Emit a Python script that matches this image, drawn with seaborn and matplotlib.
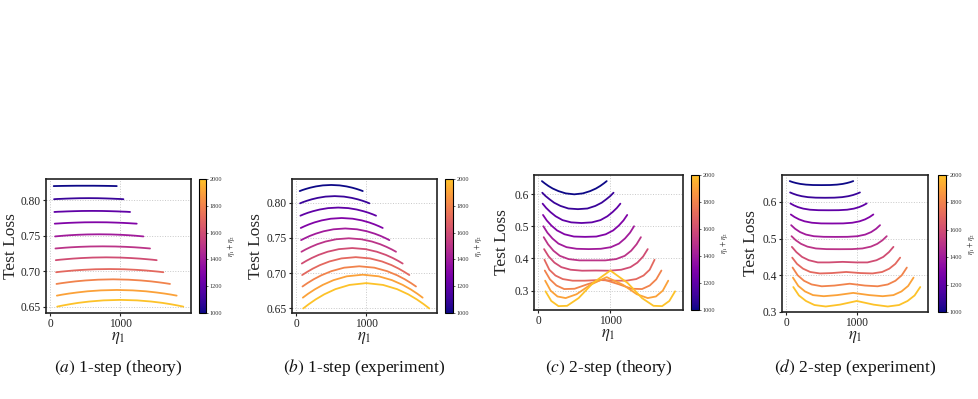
import numpy as np
import pandas as pd
import matplotlib
matplotlib.use("Agg")
import matplotlib.pyplot as plt
import seaborn as sns
from matplotlib.colors import ListedColormap, Normalize
from matplotlib.cm import ScalarMappable

# Step 1: data
step_sums = [1000, 1100, 1200, 1300, 1400, 1500, 1600, 1700, 1800, 1900, 2000]
eta1_fracs = [0.05, 0.09, 0.14, 0.20, 0.28, 0.38, 0.50, 0.62, 0.72, 0.80, 0.86, 0.91, 0.95]

loss_1step_theory = [
    [.8200, .8201, .8202, .8203, .8204, .8205, .8205, .8205, .8204, .8203, .8202, .8201, .8200],
    [.8015, .8018, .8020, .8023, .8026, .8029, .8030, .8029, .8026, .8023, .8020, .8018, .8015],
    [.7835, .7838, .7840, .7843, .7846, .7849, .7850, .7849, .7846, .7843, .7840, .7838, .7835],
    [.7670, .7673, .7677, .7681, .7685, .7689, .7690, .7689, .7685, .7681, .7677, .7673, .7670],
    [.7490, .7495, .7501, .7507, .7513, .7518, .7520, .7518, .7513, .7507, .7501, .7495, .7490],
    [.7320, .7325, .7331, .7337, .7343, .7348, .7350, .7348, .7343, .7337, .7331, .7325, .7320],
    [.7155, .7162, .7169, .7177, .7185, .7192, .7195, .7192, .7185, .7177, .7169, .7162, .7155],
    [.6985, .6993, .7001, .7010, .7019, .7027, .7030, .7027, .7019, .7010, .7001, .6993, .6985],
    [.6820, .6831, .6843, .6856, .6869, .6880, .6885, .6880, .6869, .6856, .6843, .6831, .6820],
    [.6655, .6669, .6684, .6699, .6716, .6729, .6735, .6729, .6716, .6699, .6684, .6669, .6655],
    [.6500, .6516, .6534, .6553, .6572, .6588, .6595, .6588, .6572, .6553, .6534, .6516, .6500],
]

loss_1step_exp = [
    [.8168, .8183, .8199, .8216, .8234, .8249, .8255, .8249, .8234, .8216, .8199, .8183, .8168],
    [.7993, .8011, .8030, .8050, .8071, .8089, .8096, .8089, .8071, .8050, .8030, .8011, .7993],
    [.7817, .7837, .7859, .7881, .7905, .7925, .7933, .7925, .7905, .7881, .7859, .7837, .7817],
    [.7642, .7666, .7693, .7721, .7750, .7774, .7784, .7774, .7750, .7721, .7693, .7666, .7642],
    [.7469, .7497, .7529, .7561, .7595, .7623, .7635, .7623, .7595, .7561, .7529, .7497, .7469],
    [.7303, .7336, .7372, .7410, .7449, .7481, .7495, .7481, .7449, .7410, .7372, .7336, .7303],
    [.7135, .7173, .7215, .7258, .7303, .7340, .7356, .7340, .7303, .7258, .7215, .7173, .7135],
    [.6971, .7014, .7063, .7113, .7165, .7208, .7226, .7208, .7165, .7113, .7063, .7014, .6971],
    [.6808, .6857, .6912, .6968, .7027, .7076, .7096, .7076, .7027, .6968, .6912, .6857, .6808],
    [.6649, .6705, .6767, .6831, .6898, .6953, .6976, .6953, .6898, .6831, .6767, .6705, .6649],
    [.6495, .6556, .6625, .6696, .6770, .6830, .6856, .6830, .6770, .6696, .6625, .6556, .6495],
]

loss_2step_theory = [
    [.640, .633, .625, .617, .609, .602, .599, .602, .609, .617, .625, .633, .640],
    [.604, .594, .584, .573, .563, .555, .553, .555, .563, .573, .584, .594, .604],
    [.570, .557, .544, .531, .519, .512, .510, .512, .519, .531, .544, .557, .570],
    [.535, .518, .502, .487, .475, .468, .467, .468, .475, .487, .502, .518, .535],
    [.500, .480, .462, .446, .435, .430, .429, .430, .435, .446, .462, .480, .500],
    [.466, .444, .424, .408, .398, .394, .394, .394, .398, .408, .424, .444, .466],
    [.429, .406, .387, .373, .365, .362, .3625, .362, .365, .373, .387, .406, .429],
    [.396, .365, .347, .336, .331, .331, .333, .331, .331, .336, .347, .365, .396],
    [.3625, .335, .316, .305, .306, .320, .335, .320, .306, .305, .316, .335, .3625],
    [.331, .300, .282, .277, .289, .318, .342, .318, .289, .277, .282, .300, .331],
    [.298, .268, .252, .253, .277, .324, .3625, .324, .277, .253, .252, .268, .298],
]

loss_2step_exp = [
    [.6564, .6537, .6511, .6487, .6468, .6457, .6455, .6457, .6468, .6487, .6511, .6537, .6564],
    [.6255, .6220, .6184, .6153, .6127, .6113, .6110, .6113, .6127, .6153, .6184, .6220, .6255],
    [.5955, .5904, .5855, .5815, .5785, .5772, .5770, .5772, .5785, .5815, .5855, .5904, .5955],
    [.5655, .5587, .5522, .5469, .5430, .5412, .5410, .5412, .5430, .5469, .5522, .5587, .5655],
    [.5364, .5265, .5176, .5108, .5063, .5047, .5045, .5047, .5063, .5108, .5176, .5265, .5364],
    [.5064, .4954, .4855, .4780, .4730, .4712, .4710, .4712, .4730, .4780, .4855, .4954, .5064],
    [.4773, .4630, .4500, .4410, .4350, .4350, .4365, .4350, .4350, .4410, .4500, .4630, .4773],
    [.448, .431, .418, .409, .405, .406, .409, .406, .405, .409, .418, .431, .448],
    [.421, .400, .385, .375, .370, .372, .377, .372, .370, .375, .385, .400, .421],
    [.3936, .371, .356, .346, .343, .346, .352, .346, .343, .346, .356, .371, .3936],
    [.368, .345, .330, .319, .315, .320, .330, .320, .315, .319, .330, .345, .368],
]

panel_names = ["a", "b", "c", "d"]
panel_titles = ["1-step (theory)", "1-step (experiment)", "2-step (theory)", "2-step (experiment)"]
panel_ylims = [(0.641, 0.830), (0.643, 0.834), (0.240, 0.659), (0.300, 0.673)]
panel_yticks = [[0.65, 0.70, 0.75, 0.80], [0.65, 0.70, 0.75, 0.80],
                [0.3, 0.4, 0.5, 0.6], [0.3, 0.4, 0.5, 0.6]]
panel_yfmt = ["%.2f", "%.2f", "%.1f", "%.1f"]
panel_data = [loss_1step_theory, loss_1step_exp, loss_2step_theory, loss_2step_exp]

# pixel boxes (left, top, right, bottom) of axes and colorbars
axes_px = [(46, 179, 191, 313), (292, 179, 437, 313), (534, 175, 683, 310), (782, 175, 928, 312)]
cbar_px = [(199, 206), (445, 453), (691, 699), (938, 946)]
ylabel_x = [-0.185, -0.190, -0.160, -0.158]

# Step 2: style
sns.set_theme(style="whitegrid")
plt.rcParams["font.family"] = ["Liberation Serif", "DejaVu Serif"]
plt.rcParams["mathtext.fontset"] = "stix"

cmap = ListedColormap(plt.cm.plasma(np.linspace(0.0, 0.87, 256)))
norm = Normalize(1000, 2000)

W, H = 979, 399
fig = plt.figure(figsize=(W / 100, H / 100), dpi=100)


def px_box(l, t, r, b):
    return [l / W, 1 - b / H, (r - l) / W, (b - t) / H]


# Step 3: draw panels
for i in range(4):
    rows = []
    for s, vals in zip(step_sums, panel_data[i]):
        for f, v in zip(eta1_fracs, vals):
            rows.append({"eta1": f * s, "loss": v, "S": s})
    df = pd.DataFrame(rows)

    l, t, r, b = axes_px[i]
    ax = fig.add_axes(px_box(l, t, r, b))
    sns.lineplot(data=df, x="eta1", y="loss", hue="S", palette=cmap, hue_norm=norm,
                 estimator=None, legend=False, lw=1.3, ax=ax)
    ax.set_xlim(-60, 2010)
    ax.set_ylim(*panel_ylims[i])
    ax.set_xticks([0, 1000])
    ax.set_yticks(panel_yticks[i])
    ax.set_yticklabels([panel_yfmt[i] % v for v in panel_yticks[i]])
    ax.grid(True, ls=":", lw=0.7, color="#c8c8c8")
    ax.set_facecolor("white")
    for sp in ax.spines.values():
        sp.set_color("#222222")
        sp.set_linewidth(1.2)
    ax.tick_params(axis="both", direction="out", length=2.5, width=0.8, color="#222222",
                   labelsize=8.3, pad=1, labelcolor="#222222")
    ax.tick_params(axis="x", bottom=True)
    ax.tick_params(axis="y", left=True)
    ax.set_ylabel("Test Loss", fontsize=12.5)
    ax.yaxis.set_label_coords(ylabel_x[i], 0.5)
    ax.set_xlabel(r"$\eta_1$", fontsize=12, labelpad=0)

    c0, c1 = cbar_px[i]
    cax = fig.add_axes(px_box(c0, t, c1, b))
    cb = fig.colorbar(ScalarMappable(norm=norm, cmap=cmap), cax=cax,
                      ticks=[1000, 1200, 1400, 1600, 1800, 2000])
    cb.outline.set_edgecolor("black")
    cb.outline.set_linewidth(0.8)
    cax.tick_params(labelsize=4.5, length=1.5, width=0.5, pad=1, labelcolor="#333333")
    cb.set_label(r"$\eta_1+\eta_2$", fontsize=5.5, labelpad=2)

    cx = (l + r) / 2 / W
    fig.text(cx, 1 - 368 / H, r"$\mathit{(" + panel_names[i] + r")}$ " + panel_titles[i],
             ha="center", va="center", fontsize=12.5, color="#111111")

fig.savefig("out.png", dpi=100)
